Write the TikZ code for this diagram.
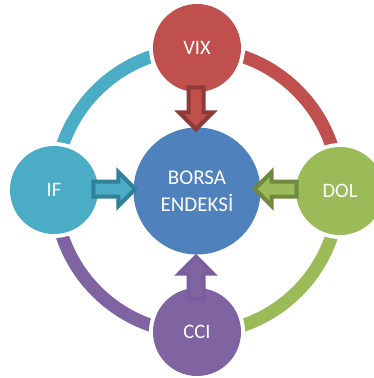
\documentclass[tikz,border=0pt]{standalone}
\usepackage{fontspec}
\setmainfont{Carlito}
\usetikzlibrary{calc}
\definecolor{cblue}{HTML}{4F81BD}
\definecolor{cred}{HTML}{C0504D}
\definecolor{dred}{HTML}{8E3A38}
\definecolor{cgreen}{HTML}{9BBB59}
\definecolor{dgreen}{HTML}{71893F}
\definecolor{ccyan}{HTML}{4BACC6}
\definecolor{dcyan}{HTML}{31809A}
\definecolor{cpurple}{HTML}{8064A2}
\definecolor{dpurple}{HTML}{7A5D9D}
\tikzset{
  sat/.style={circle, fill=#1, minimum size=88pt, inner sep=0pt, text=white,
    font=\fontsize{20.5}{24}\selectfont, preaction={draw=white, line width=8pt}},
  hub/.style={circle, fill=cblue, minimum size=127pt, inner sep=0pt, text=white,
    align=center, font=\fontsize{21}{27}\selectfont},
  ring/.style={draw=#1, line width=13pt},
  barrow/.pic={
    \path[pic actions] (-2,0) -- (-19,-17) -- (-19,-7.5) -- (-44,-7.5) -- (-44,7.5)
      -- (-19,7.5) -- (-19,17) -- cycle;
  },
  blockarrow/.style 2 args={draw=#2, fill=#1, line width=4pt, line join=miter},
}
\begin{document}
\begin{tikzpicture}[x=1pt,y=-1pt]
\useasboundingbox (0,0) rectangle (374,378);
\clip (0,0) rectangle (374,378);
\coordinate (c) at (197,191);
% ring
\draw[ring=ccyan] (c) ++(180:142pt) arc[start angle=180, end angle=90, radius=142pt];
\draw[ring=cred] (c) ++(90:142pt) arc[start angle=90, end angle=0, radius=142pt];
\draw[ring=cgreen] (c) ++(0:142pt) arc[start angle=0, end angle=-90, radius=142pt];
\draw[ring=cpurple] (c) ++(-90:142pt) arc[start angle=-90, end angle=-180, radius=142pt];
% nodes
\node[hub] (hub) at (c) {BORSA\\ENDEKS\.I};
\node[sat=cred] (vix) at (197,48) {VIX};
\node[sat=ccyan] (if) at (54,190) {IF};
\node[sat=cgreen] (dol) at (340,191) {DOL};
\node[sat=cpurple] (cci) at (197,332) {CCI};
% block arrows
\path ($(hub.north)+(-1,4)$) coordinate (tv);
\path ($(hub.west)+(4,-2)$) coordinate (ti);
\path ($(hub.east)+(-8,-2)$) coordinate (td);
\path ($(hub.south)+(-1,0)$) coordinate (tc);
\pic[blockarrow={cred}{dred}, rotate=-90] at (tv) {barrow};
\pic[blockarrow={ccyan}{dcyan}, rotate=0] at (ti) {barrow};
\pic[blockarrow={cgreen}{dgreen}, rotate=180] at (td) {barrow};
\pic[blockarrow={cpurple}{dpurple}, rotate=90] at (tc) {barrow};
\end{tikzpicture}
\end{document}
